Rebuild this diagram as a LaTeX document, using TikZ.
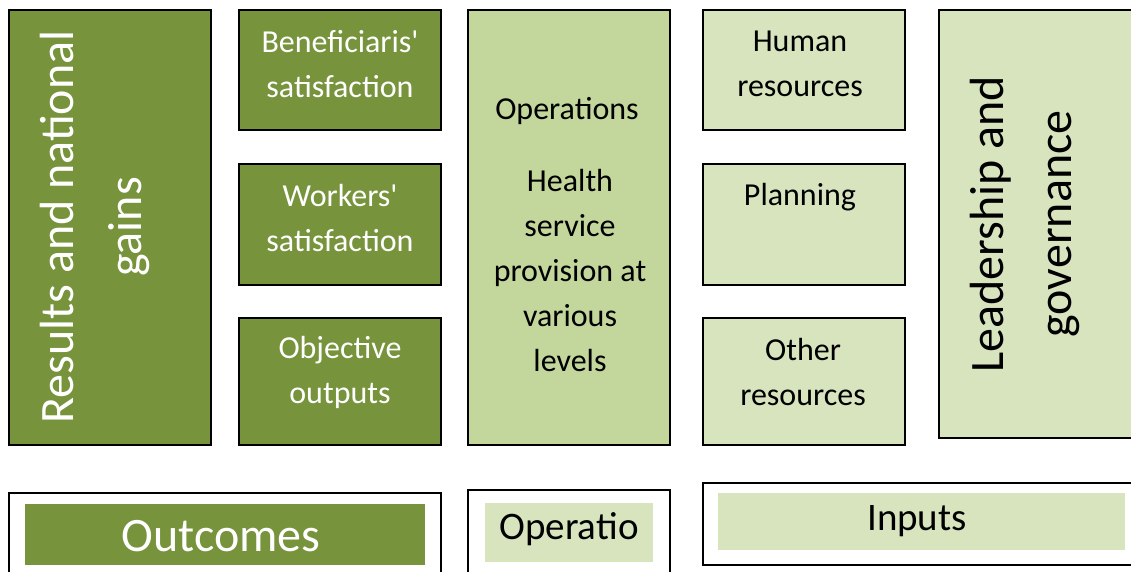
\documentclass[tikz,border=0pt]{standalone}
\usepackage{fontspec}
\setmainfont{Carlito}
\definecolor{olivedark}{HTML}{77933C}
\definecolor{olivemid}{HTML}{C3D69B}
\definecolor{olivelight}{HTML}{D7E4BD}
\tikzset{
  panel/.style={draw=black, line width=1.3pt},
  darkpanel/.style={panel, fill=olivedark},
  midpanel/.style={panel, fill=olivemid},
  lightpanel/.style={panel, fill=olivelight},
  framebox/.style={draw=black, line width=1.3pt, fill=white},
  smalltext/.style={align=center, inner sep=0pt, font=\fontsize{32}{45}\selectfont},
  bigtext/.style={align=center, inner sep=0pt, font=\fontsize{48}{68}\selectfont},
  labeltext/.style={align=center, inner sep=0pt},
}
\newcommand{\apos}{\textquotesingle}
\begin{document}
\begin{tikzpicture}[x=1pt,y=-1pt]
\useasboundingbox (0,0) rectangle (1131,571);
\clip (0,0) rectangle (1131,571);

% Outcomes column
\draw[darkpanel] (9,10) rectangle (211,445);
\node[bigtext, text=white, rotate=90] (gains) at (95,227) {Results and national\\gains};

\draw[darkpanel] (239,10) rectangle (441,130);
\node[smalltext, text=white] (benef) at (340,64) {Beneficiaris\apos\\satisfaction};
\draw[darkpanel] (239,164) rectangle (441,285);
\node[smalltext, text=white] (workers) at (340,218) {Workers\apos\\satisfaction};
\draw[darkpanel] (239,318) rectangle (441,445);
\node[smalltext, text=white] (outputs) at (340,372) {Objective\\outputs};

% Operations column
\draw[midpanel] (468,10) rectangle (670,445);
\node[smalltext] (ops) at (567,111) {Operations};
\node[smalltext] (health) at (570,270) {Health\\service\\provision at\\various\\levels};

% Inputs column
\draw[lightpanel] (703,10) rectangle (905,130);
\node[smalltext] (human) at (800,64) {Human\\resources};
\draw[lightpanel] (703,164) rectangle (905,285);
\node[smalltext] (planning) at (800,197) {Planning};
\draw[lightpanel] (703,318) rectangle (905,445);
\node[smalltext] (other) at (803,372) {Other\\resources};

% Leadership panel
\draw[lightpanel] (939,10) rectangle (1145,438);
\node[bigtext, rotate=90] (lead) at (1025,224) {Leadership and\\governance};

% Legend row
\draw[framebox] (9,493) rectangle (441,590);
\fill[olivedark] (25,504) rectangle (425,565);
\node[labeltext, text=white, font=\fontsize{48}{52}\selectfont] (outcomes) at (221,536) {Outcomes};

\draw[framebox] (468,490) rectangle (670,590);
\fill[olivelight] (485,503) rectangle (653,562);
\node[labeltext, font=\fontsize{39}{44}\selectfont] (operatio) at (569,529) {Operatio};

\draw[framebox] (703,483) rectangle (1145,565);
\fill[olivelight] (718,493) rectangle (1125,550);
\node[labeltext, font=\fontsize{39}{44}\selectfont] (inputs) at (917,521) {Inputs};
\end{tikzpicture}
\end{document}
